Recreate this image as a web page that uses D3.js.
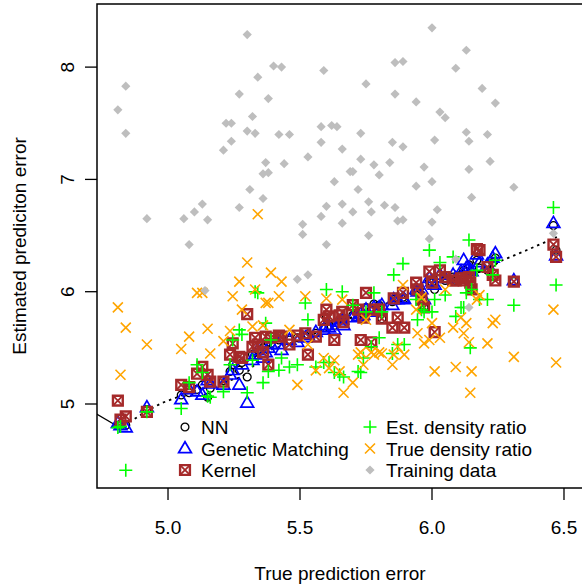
<!DOCTYPE html>
<html>
<head>
<meta charset="utf-8">
<script src="https://cdn.jsdelivr.net/npm/d3@7"></script>
<style>
  body { margin: 0; background: #fff; }
  svg text { font-family: "Liberation Sans", Arial, sans-serif; font-size: 19px; fill: #000; }
</style>
</head>
<body>
<svg id="chart" width="582" height="587"></svg>
<script>
// true prediction error of each test point (x)
const trueErr = [4.81,4.82,4.84,4.92,5.05,5.08,5.11,5.13,5.15,5.16,5.21,5.235,5.245,5.27,5.28,5.30,5.32,5.33,5.34,5.36,
  5.37,5.38,5.39,5.42,5.43,5.46,5.49,5.52,5.53,5.56,5.59,5.60,5.61,5.63,5.65,5.66,5.665,5.70,5.72,5.73,
  5.74,5.75,5.77,5.80,5.81,5.78,5.85,5.855,5.87,5.89,5.895,5.94,5.945,5.96,5.97,5.99,6.00,6.01,6.03,6.05,
  6.08,6.09,6.11,6.12,6.13,6.14,6.145,6.15,6.17,6.18,6.21,6.23,6.24,6.31,6.46,6.47];

// estimated prediction error, one array per method
const nnEst = [4.81,4.82,4.81,4.95,5.08,5.10,5.13,5.17,5.06,5.14,5.21,5.29,5.35,5.30,5.37,5.24,5.44,5.46,5.48,5.50,
  5.53,5.55,5.54,5.57,5.59,5.57,5.59,5.61,5.62,5.63,5.68,5.77,5.70,5.70,5.75,5.77,5.75,5.79,5.79,5.82,
  5.80,5.86,5.84,5.88,5.76,5.89,5.91,5.93,5.94,5.95,5.94,6.00,6.02,5.97,5.86,6.09,6.08,6.02,6.12,6.10,
  6.13,6.10,6.15,6.19,6.18,6.24,6.18,6.02,6.28,6.21,6.19,6.26,6.30,6.09,6.59,6.37];
const gmEst = [4.83,4.81,4.79,4.97,5.04,5.13,5.11,5.08,5.21,5.18,5.17,5.26,5.30,5.17,5.35,5.01,5.39,5.44,5.48,5.41,
  5.46,5.50,5.53,5.53,5.48,5.57,5.55,5.59,5.61,5.64,5.66,5.70,5.68,5.66,5.73,5.75,5.70,5.77,5.78,5.80,
  5.79,5.84,5.82,5.86,5.88,5.86,5.88,5.93,5.93,5.94,5.93,6.02,6.00,6.02,5.93,6.12,6.09,6.06,6.15,6.12,
  6.15,6.12,6.18,6.28,6.21,6.21,6.19,6.18,6.33,6.26,6.24,6.30,6.34,6.10,6.61,6.32];
const kernelEst = [5.03,4.86,4.89,4.93,5.17,5.15,5.27,5.33,5.26,5.20,5.20,5.44,5.54,5.42,5.41,5.80,5.51,5.59,5.53,5.46,
  5.60,5.35,5.59,5.61,5.60,5.53,5.61,5.63,5.44,5.60,5.75,5.84,5.78,5.57,5.79,5.82,5.73,5.88,5.84,5.57,
  5.77,5.99,5.55,5.84,5.76,5.84,5.68,5.94,5.77,5.99,5.68,6.08,6.02,5.93,5.86,6.18,6.08,5.64,6.19,6.13,
  6.10,6.10,6.12,6.10,6.12,6.13,6.08,6.02,6.38,6.37,6.22,6.15,6.10,6.09,6.42,6.31];
const estDrEst = [4.79,4.80,4.41,4.93,4.96,5.19,5.35,5.28,5.07,5.06,5.11,5.35,5.57,5.66,5.62,5.10,5.39,6.00,5.99,5.19,
  5.72,5.29,5.57,5.30,5.41,5.33,5.35,5.90,5.75,5.33,5.37,6.02,5.37,5.28,5.26,6.00,5.24,5.88,5.29,5.28,
  5.41,5.82,5.51,5.59,5.82,5.99,5.45,6.15,5.53,6.25,5.53,5.93,5.75,5.84,5.82,6.37,5.82,5.93,6.26,5.97,
  6.31,5.78,5.86,5.86,5.99,6.46,5.50,6.02,6.19,5.93,5.93,6.15,6.28,5.88,6.75,6.06];
const trueDrEst = [5.86,5.26,5.68,5.53,5.49,5.60,5.99,5.99,5.67,5.45,5.56,5.65,5.96,6.09,5.84,6.26,5.69,6.02,6.69,5.70,
  5.90,5.90,6.17,5.96,6.09,5.66,5.17,5.96,5.53,5.30,5.41,5.94,5.32,5.39,5.29,5.93,5.10,5.19,5.44,5.46,
  5.35,5.75,5.46,5.46,5.45,5.44,5.35,5.44,5.51,6.06,5.44,5.84,5.63,5.95,5.54,5.57,5.72,5.29,5.59,6.02,
  5.68,5.33,5.77,5.63,5.72,5.55,5.10,5.29,5.93,5.97,5.54,5.72,5.75,5.42,5.84,5.37];

// training data
const trainX = [5.30,5.40,5.43,5.59,4.84,5.34,5.27,5.38,4.81,5.32,5.22,5.24,5.30,5.33,5.42,5.46,5.58,5.62,5.64,4.84,
  5.24,5.21,5.58,5.66,5.53,5.37,5.44,5.36,5.38,5.63,5.69,5.70,5.31,5.36,5.13,5.10,5.27,4.92,5.06,5.15,
  5.60,5.66,5.58,5.51,5.51,5.66,6.00,6.13,5.86,5.89,6.09,5.75,6.19,5.86,5.94,6.24,6.03,6.05,5.73,6.13,
  6.14,6.21,5.85,5.89,6.01,5.73,5.78,5.80,5.84,5.97,6.14,6.22,6.31,5.72,5.94,6.00,6.15,5.76,5.70,5.77,
  5.82,5.86,6.02,5.87,5.89,6.00,5.76,5.99,5.08,5.60,5.49,5.53,5.14,6.09,6.14,6.46];
const trainY = [8.29,8.01,8.00,7.97,7.83,7.91,7.76,7.72,7.62,7.56,7.50,7.50,7.43,7.41,7.40,7.40,7.47,7.48,7.47,7.41,
  7.34,7.26,7.33,7.27,7.20,7.15,7.14,7.05,7.06,6.98,7.07,7.07,6.91,6.83,6.78,6.71,6.75,6.65,6.65,6.64,
  6.76,6.78,6.67,6.60,6.51,6.61,8.35,8.15,8.04,8.05,7.99,7.85,7.81,7.76,7.69,7.68,7.60,7.55,7.41,7.42,
  7.34,7.40,7.33,7.29,7.35,7.18,7.13,7.04,7.15,7.11,7.09,7.16,6.93,6.91,6.94,6.98,6.84,6.80,6.71,6.71,
  6.77,6.75,6.73,6.63,6.64,6.62,6.50,6.47,6.42,6.42,6.11,6.15,6.01,6.29,5.86,6.52];

// dotted trend and the short solid segment at the left edge
const trendX = [4.807,4.867,4.913,4.977,5.057,5.167,5.280,5.386,5.500,5.689,5.879,6.068,6.193,6.269,6.360,6.473];
const trendY = [4.795,4.858,4.929,5.009,5.080,5.169,5.240,5.481,5.570,5.766,5.944,6.113,6.184,6.282,6.371,6.487];
const segX = [4.70, 4.807];
const segY = [4.952, 4.804];

const xTicks = [5.0, 5.5, 6.0, 6.5];
const yTicks = [5, 6, 7, 8];
const legendLabels = ["NN", "Genetic Matching", "Kernel", "Est. density ratio", "True density ratio", "Training data"];

const svg = d3.select("#chart");
const pLeft = 97, pRight = 583, pTop = 4, pBottom = 488;

const x = d3.scaleLinear().domain([4.731, 6.572]).range([pLeft, pRight]);
const y = d3.scaleLinear().domain([4.252, 8.562]).range([pBottom, pTop]);

svg.append("defs").append("clipPath").attr("id", "plotClip")
  .append("rect").attr("x", pLeft).attr("y", pTop).attr("width", pRight - pLeft).attr("height", pBottom - pTop);

const plot = svg.append("g").attr("clip-path", "url(#plotClip)");

// marker drawers
const marks = {
  nn: (g) => g.append("circle").attr("r", 3.9).attr("fill", "none").attr("stroke", "#000").attr("stroke-width", 1.3),
  gm: (g) => g.append("path").attr("d", "M0,-6.8L6.4,4.2L-6.4,4.2Z").attr("fill", "none").attr("stroke", "#0000ff").attr("stroke-width", 1.7),
  kernel: (g) => {
    g.append("path").attr("d", "M-4.9,-4.9H4.9V4.9H-4.9Z")
      .attr("fill", "none").attr("stroke", "#a52a2a").attr("stroke-width", 2.4);
    g.append("path").attr("d", "M-4.9,-4.9L4.9,4.9M4.9,-4.9L-4.9,4.9")
      .attr("fill", "none").attr("stroke", "#a52a2a").attr("stroke-width", 1.8);
  },
  est: (g) => g.append("path").attr("d", "M-6.5,0H6.5M0,-6.5V6.5").attr("stroke", "#00ff00").attr("stroke-width", 1.6),
  tru: (g) => g.append("path").attr("d", "M-5,-5L5,5M5,-5L-5,5").attr("stroke", "#ffa500").attr("stroke-width", 1.6),
  train: (g) => g.append("path").attr("d", "M0,-4.6L4.6,0L0,4.6L-4.6,0Z").attr("fill", "#bebebe")
};

function drawSeries(xs, ys, kind) {
  const g = plot.append("g");
  xs.forEach((v, i) => {
    const p = g.append("g").attr("transform", `translate(${x(v)},${y(ys[i])})`);
    marks[kind](p);
  });
}

// dotted trend line
const line = d3.line().x(d => x(d[0])).y(d => y(d[1]));
plot.append("path").datum(trendX.map((v, i) => [v, trendY[i]]))
  .attr("d", line).attr("fill", "none").attr("stroke", "#000")
  .attr("stroke-width", 1.8).attr("stroke-dasharray", "2.5,4");
plot.append("path").datum(segX.map((v, i) => [v, segY[i]]))
  .attr("d", line).attr("fill", "none").attr("stroke", "#000").attr("stroke-width", 1.3);

drawSeries(trueErr, nnEst, "nn");
drawSeries(trueErr, gmEst, "gm");
drawSeries(trueErr, kernelEst, "kernel");
drawSeries(trueErr, estDrEst, "est");
drawSeries(trueErr, trueDrEst, "tru");
drawSeries(trainX, trainY, "train");

// box
svg.append("rect").attr("x", pLeft).attr("y", pTop).attr("width", pRight - pLeft).attr("height", pBottom - pTop)
  .attr("fill", "none").attr("stroke", "#000").attr("stroke-width", 1.5);

// x axis
const xAxis = svg.append("g");
xTicks.forEach(t => {
  xAxis.append("line").attr("x1", x(t)).attr("x2", x(t)).attr("y1", pBottom).attr("y2", pBottom + 12)
    .attr("stroke", "#000").attr("stroke-width", 1.3);
  xAxis.append("text").attr("x", x(t)).attr("y", 534).attr("text-anchor", "middle").text(d3.format(".1f")(t));
});
svg.append("text").attr("x", (pLeft + pRight) / 2).attr("y", 580).attr("text-anchor", "middle").text("True prediction error");

// y axis
const yAxis = svg.append("g");
yTicks.forEach(t => {
  yAxis.append("line").attr("x1", pLeft - 12).attr("x2", pLeft).attr("y1", y(t)).attr("y2", y(t))
    .attr("stroke", "#000").attr("stroke-width", 1.3);
  yAxis.append("text").attr("transform", `translate(74,${y(t)}) rotate(-90)`)
    .attr("text-anchor", "middle").text(t);
});
svg.append("text").attr("transform", `translate(26,${(pTop + pBottom) / 2}) rotate(-90)`)
  .attr("text-anchor", "middle").text("Estimated prediciton error");

// legend
const legendKinds = ["nn", "gm", "kernel", "est", "tru", "train"];
const legend = svg.append("g");
legendLabels.forEach((lab, i) => {
  const col = Math.floor(i / 3), row = i % 3;
  const sx = col === 0 ? 185 : 370;
  const sy = 427 + row * 21.5;
  const p = legend.append("g").attr("transform", `translate(${sx},${sy})`);
  marks[legendKinds[i]](p);
  legend.append("text").attr("x", sx + 16).attr("y", sy + 7).text(lab);
});
</script>
</body>
</html>
